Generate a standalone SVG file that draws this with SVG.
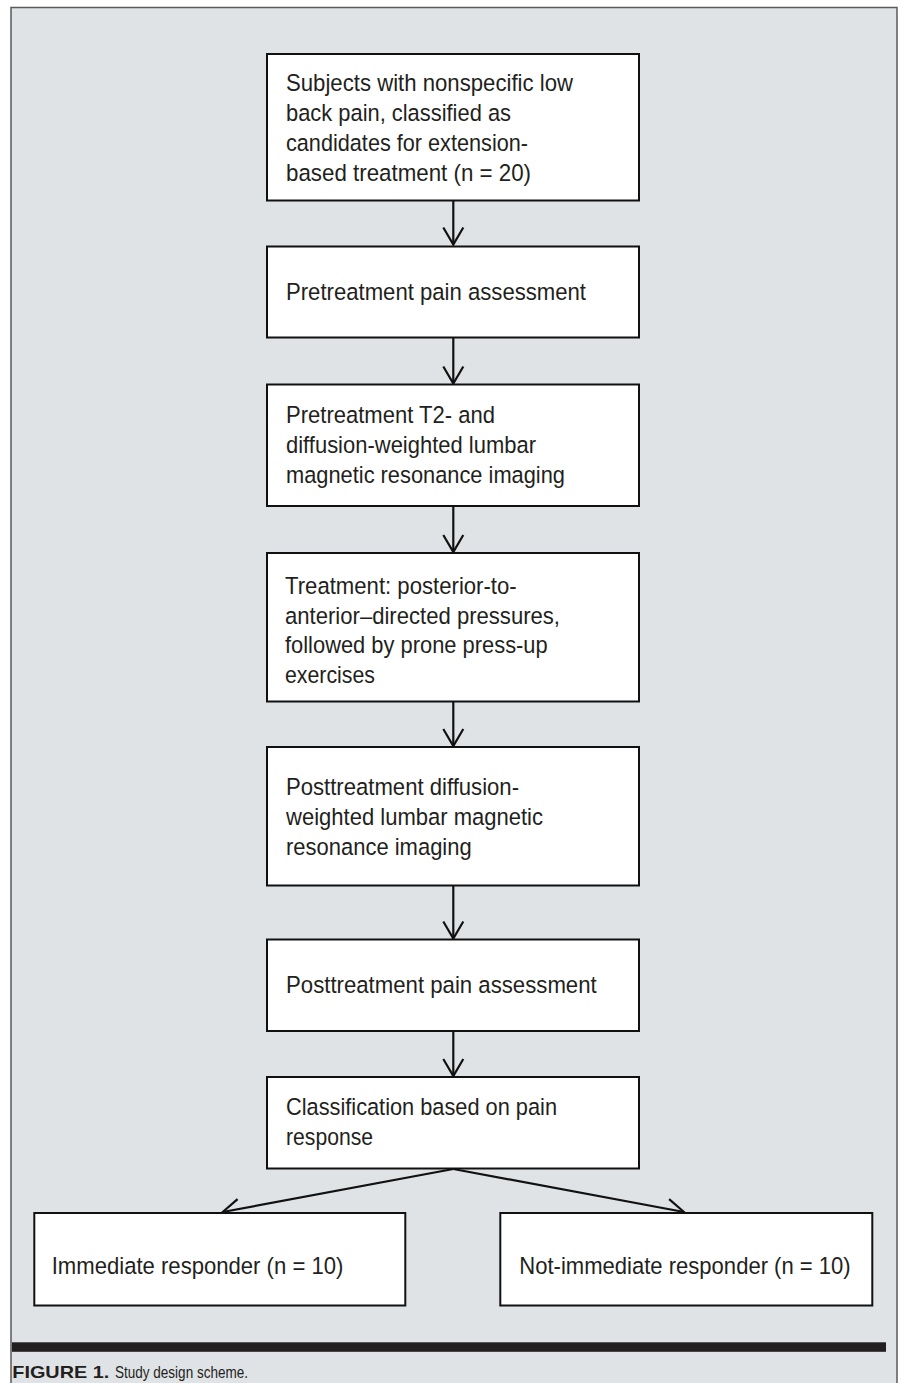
<svg xmlns="http://www.w3.org/2000/svg" width="903" height="1383" viewBox="0 0 903 1383">
<style>
.panel{fill:#e0e3e6;stroke:#5a5a5a;stroke-width:1.5}
.box{fill:#ffffff;stroke:#111111;stroke-width:2}
.t{font-family:"Liberation Sans",Arial,sans-serif;font-size:24.5px;fill:#231f20}
.cap{font-family:"Liberation Sans",Arial,sans-serif;font-size:17px;fill:#231f20}
.conn{fill:none;stroke:#111111;stroke-width:2.2}
</style>
<defs>
<marker id="arr" markerUnits="userSpaceOnUse" viewBox="-20 -12 22 24" refX="0" refY="0" markerWidth="22" markerHeight="24" orient="auto" overflow="visible">
<path d="M-17,-10 L0,0 L-17,10" fill="none" stroke="#111111" stroke-width="2.2" stroke-linejoin="miter"/>
</marker>
</defs>
<rect class="panel" x="11" y="7.5" width="886" height="1390"/>
<g id="connectors">
<line class="conn" x1="453.3" y1="201" x2="453.3" y2="244.5" marker-end="url(#arr)"/>
<line class="conn" x1="453.3" y1="338" x2="453.3" y2="383.5" marker-end="url(#arr)"/>
<line class="conn" x1="453.3" y1="506" x2="453.3" y2="552" marker-end="url(#arr)"/>
<line class="conn" x1="453.3" y1="702" x2="453.3" y2="746" marker-end="url(#arr)"/>
<line class="conn" x1="453.3" y1="886" x2="453.3" y2="938.5" marker-end="url(#arr)"/>
<line class="conn" x1="453.3" y1="1031.5" x2="453.3" y2="1076" marker-end="url(#arr)"/>
<line class="conn" x1="453.3" y1="1169" x2="222.7" y2="1212" marker-end="url(#arr)"/>
<line class="conn" x1="453.3" y1="1169" x2="684" y2="1212" marker-end="url(#arr)"/>
</g>
<g id="n1">
<rect class="box" x="267" y="54" width="372" height="146.5"/>
<text class="t" x="286" y="90.7" textLength="287" lengthAdjust="spacingAndGlyphs">Subjects with nonspecific low</text>
<text class="t" x="286" y="120.7" textLength="225" lengthAdjust="spacingAndGlyphs">back pain, classified as</text>
<text class="t" x="286" y="150.7" textLength="242" lengthAdjust="spacingAndGlyphs">candidates for extension-</text>
<text class="t" x="286" y="180.7" textLength="245" lengthAdjust="spacingAndGlyphs">based treatment (n = 20)</text>
</g>
<g id="n2">
<rect class="box" x="267" y="246.5" width="372" height="91"/>
<text class="t" x="286" y="300" textLength="300" lengthAdjust="spacingAndGlyphs">Pretreatment pain assessment</text>
</g>
<g id="n3">
<rect class="box" x="267" y="384.5" width="372" height="121.5"/>
<text class="t" x="286" y="422.7" textLength="209" lengthAdjust="spacingAndGlyphs">Pretreatment T2- and</text>
<text class="t" x="286" y="452.7" textLength="250" lengthAdjust="spacingAndGlyphs">diffusion-weighted lumbar</text>
<text class="t" x="286" y="482.7" textLength="279" lengthAdjust="spacingAndGlyphs">magnetic resonance imaging</text>
</g>
<g id="n4">
<rect class="box" x="267" y="553" width="372" height="148.5"/>
<text class="t" x="285" y="594" textLength="231.7" lengthAdjust="spacingAndGlyphs">Treatment: posterior-to-</text>
<text class="t" x="285" y="623.5" textLength="275" lengthAdjust="spacingAndGlyphs">anterior–directed pressures,</text>
<text class="t" x="285" y="653" textLength="262.7" lengthAdjust="spacingAndGlyphs">followed by prone press-up</text>
<text class="t" x="285" y="682.5" textLength="90" lengthAdjust="spacingAndGlyphs">exercises</text>
</g>
<g id="n5">
<rect class="box" x="267" y="747" width="372" height="138.5"/>
<text class="t" x="286" y="795" textLength="233" lengthAdjust="spacingAndGlyphs">Posttreatment diffusion-</text>
<text class="t" x="286" y="825" textLength="257" lengthAdjust="spacingAndGlyphs">weighted lumbar magnetic</text>
<text class="t" x="286" y="855" textLength="185.7" lengthAdjust="spacingAndGlyphs">resonance imaging</text>
</g>
<g id="n6">
<rect class="box" x="267" y="939.5" width="372" height="91.5"/>
<text class="t" x="286" y="993.3" textLength="310.7" lengthAdjust="spacingAndGlyphs">Posttreatment pain assessment</text>
</g>
<g id="n7">
<rect class="box" x="267" y="1077" width="372" height="91.5"/>
<text class="t" x="286" y="1115" textLength="271" lengthAdjust="spacingAndGlyphs">Classification based on pain</text>
<text class="t" x="286" y="1145" textLength="87" lengthAdjust="spacingAndGlyphs">response</text>
</g>
<g id="n8">
<rect class="box" x="34.3" y="1213" width="371" height="92.5"/>
<text class="t" x="51.7" y="1274" textLength="291.7" lengthAdjust="spacingAndGlyphs">Immediate responder (n = 10)</text>
</g>
<g id="n9">
<rect class="box" x="500.3" y="1213" width="372" height="92.5"/>
<text class="t" x="519.3" y="1274" textLength="331.4" lengthAdjust="spacingAndGlyphs">Not-immediate responder (n = 10)</text>
</g>
<g id="caption">
<rect x="12" y="1342.3" width="874" height="9.5" fill="#231f20"/>
<text class="cap" x="12.3" y="1377.7" font-weight="bold" textLength="97" lengthAdjust="spacingAndGlyphs">FIGURE 1.</text>
<text class="cap" x="115" y="1377.7" textLength="133" lengthAdjust="spacingAndGlyphs">Study design scheme.</text>
</g>
</svg>
